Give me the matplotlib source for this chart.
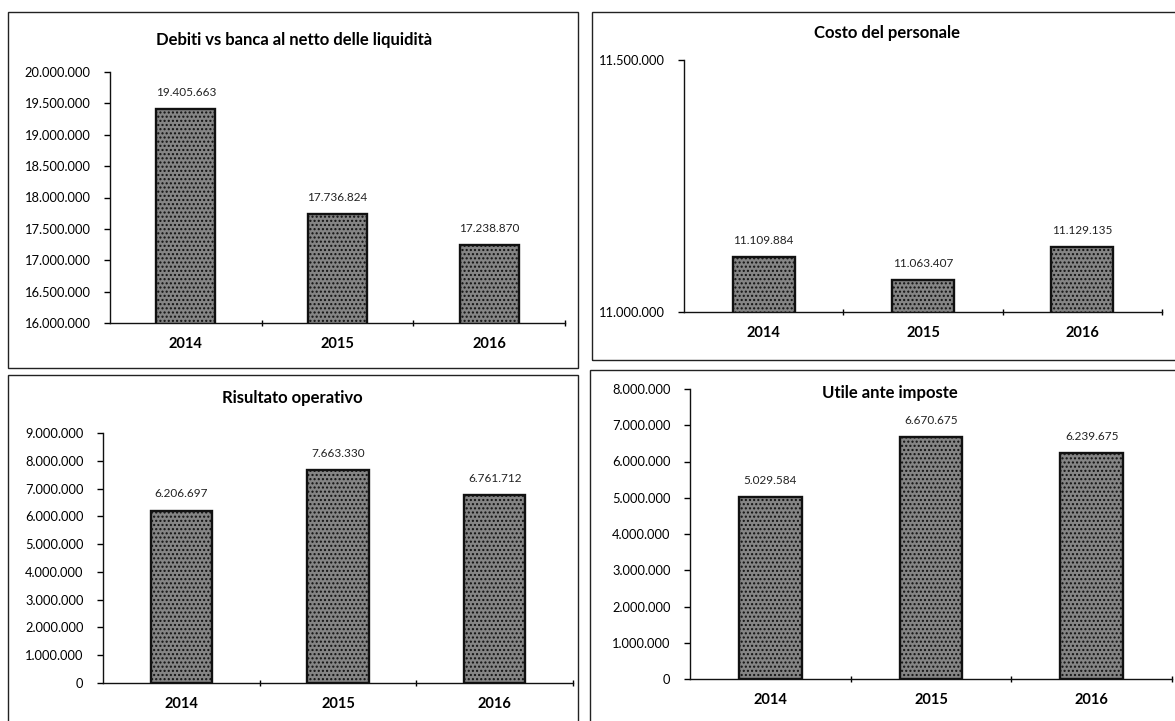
import matplotlib.pyplot as plt
from matplotlib.patches import Rectangle
from matplotlib.ticker import FuncFormatter, MultipleLocator

plt.rcParams["font.family"] = ["Lato", "DejaVu Sans"]

W, H = 1175, 721

years = ["2014", "2015", "2016"]

debiti = [19405663, 17736824, 17238870]
personale = [11109884, 11063407, 11129135]
risultato = [6206697, 7663330, 6761712]
utile = [5029584, 6670675, 6239675]

titles = [
    "Debiti vs banca al netto delle liquidità",
    "Costo del personale",
    "Risultato operativo",
    "Utile ante imposte",
]


def fmt_it(v, _pos=None):
    return f"{int(round(v)):,}".replace(",", ".")


def px_axes(fig, x0, y0, x1, y1):
    # pixel box (top-left origin) -> figure axes
    return fig.add_axes([x0 / W, 1 - y1 / H, (x1 - x0) / W, (y1 - y0) / H])


def frame(fig, x0, y0, x1, y1):
    fig.patches.append(Rectangle((x0 / W, 1 - y1 / H), (x1 - x0) / W, (y1 - y0) / H,
                                 transform=fig.transFigure, fill=False,
                                 edgecolor="#222222", linewidth=1.0))


def draw_panel(ax, values, ymin, ymax, step):
    x = range(len(values))
    ax.bar(x, values, width=0.39, bottom=0, color="#858585", edgecolor="#111111",
           linewidth=1.7, hatch="....", zorder=2)
    for xi, v in zip(x, values):
        ax.annotate(fmt_it(v), (xi, v), xytext=(0, 8), textcoords="offset points",
                    ha="center", va="bottom", fontsize=8.5, color="#222222")
    ax.set_ylim(ymin, ymax)
    ax.set_xlim(-0.5, len(values) - 0.5)
    ax.yaxis.set_major_locator(MultipleLocator(step))
    ax.yaxis.set_major_formatter(FuncFormatter(fmt_it))
    ax.set_xticks(list(x))
    ax.set_xticklabels(years, fontsize=10.5, fontweight="bold")
    ax.set_xticks([0.5, 1.5, 2.5], minor=True)
    ax.tick_params(axis="x", which="major", length=0, pad=10)
    ax.tick_params(axis="x", which="minor", length=4, direction="inout", width=1)
    ax.tick_params(axis="y", labelsize=9.3, length=4, direction="out", width=1, pad=10)
    for s in ("top", "right"):
        ax.spines[s].set_visible(False)
    for s in ("left", "bottom"):
        ax.spines[s].set_linewidth(1.0)
        ax.spines[s].set_color("#111111")
    ax.set_facecolor("none")


fig = plt.figure(figsize=(W / 100, H / 100), dpi=100)
fig.patch.set_facecolor("white")

frame(fig, 8, 12, 578, 368)
frame(fig, 592, 12, 1180, 360)
frame(fig, 8, 375, 578, 725)
frame(fig, 590, 370, 1180, 725)

ax1 = px_axes(fig, 110, 72, 565, 323)
draw_panel(ax1, debiti, 16000000, 20000000, 500000)
fig.text(294 / W, 1 - 40 / H, titles[0], ha="center", va="center", fontsize=12, fontweight="bold")

ax2 = px_axes(fig, 684, 60, 1162, 312)
draw_panel(ax2, personale, 11000000, 11500000, 500000)
fig.text(887 / W, 1 - 33 / H, titles[1], ha="center", va="center", fontsize=12, fontweight="bold")

ax3 = px_axes(fig, 103, 433, 573, 683)
draw_panel(ax3, risultato, 0, 9000000, 1000000)
fig.text(292 / W, 1 - 398 / H, titles[2], ha="center", va="center", fontsize=12, fontweight="bold")

ax4 = px_axes(fig, 690, 389, 1172, 679)
draw_panel(ax4, utile, 0, 8000000, 1000000)
fig.text(890 / W, 1 - 393 / H, titles[3], ha="center", va="center", fontsize=12, fontweight="bold")

fig.savefig("out.png", dpi=100)
